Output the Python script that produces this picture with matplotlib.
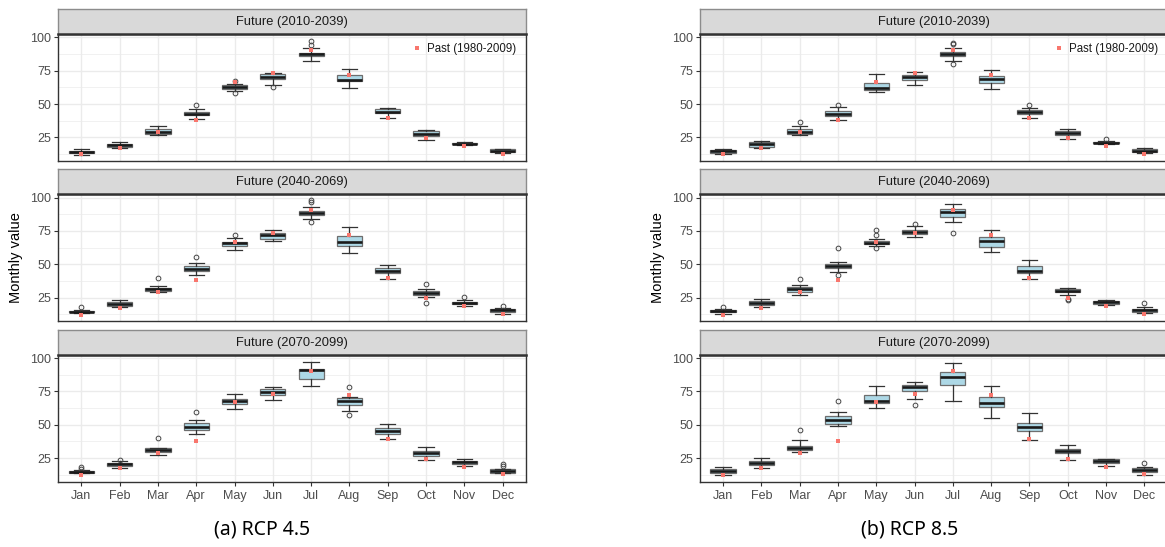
import matplotlib
matplotlib.use("Agg")
import matplotlib.pyplot as plt

months = ["Jan", "Feb", "Mar", "Apr", "May", "Jun", "Jul", "Aug", "Sep", "Oct", "Nov", "Dec"]
past = [12.3, 17.3, 29.0, 38.2, 66.8, 73.4, 90.4, 72.0, 39.6, 24.5, 18.4, 12.8]
periods = ["Future (2010-2039)", "Future (2040-2069)", "Future (2070-2099)"]
captions = ["(a) RCP 4.5", "(b) RCP 8.5"]
yticks = [25, 50, 75, 100]

# ---- RCP 4.5 ----
r45_p1_low = [12.0, 16.9, 26.5, 39.0, 59.7, 64.3, 82.3, 61.9, 39.8, 23.0, 19.0, 13.0]
r45_p1_q1 = [13.0, 18.1, 27.7, 41.5, 61.6, 68.8, 85.7, 67.3, 43.0, 25.7, 19.8, 13.9]
r45_p1_med = [13.8, 19.1, 29.2, 42.7, 62.6, 70.2, 87.2, 67.8, 44.2, 27.5, 20.3, 14.9]
r45_p1_q3 = [15.0, 20.3, 31.2, 43.9, 63.9, 72.2, 88.4, 72.0, 46.2, 29.7, 21.1, 15.9]
r45_p1_high = [15.9, 21.6, 33.6, 46.6, 65.1, 73.4, 92.1, 76.6, 47.1, 30.7, 21.8, 16.6]
r45_p1_out = [[], [], [], [49.6], [58.2, 67.5], [63.1], [93.9, 97.3], [], [], [], [], []]

r45_p2_low = [13.2, 18.1, 28.9, 42.2, 60.9, 67.8, 84.3, 58.4, 38.8, 25.3, 18.9, 12.7]
r45_p2_q1 = [13.9, 19.1, 29.9, 44.7, 63.6, 69.0, 86.7, 63.6, 43.7, 27.0, 20.1, 14.4]
r45_p2_med = [14.4, 20.6, 31.2, 46.4, 65.8, 71.7, 88.2, 66.8, 45.2, 28.7, 21.1, 15.4]
r45_p2_q3 = [15.2, 22.1, 32.6, 48.6, 67.0, 73.7, 90.2, 71.2, 47.1, 29.9, 22.1, 16.4]
r45_p2_high = [15.7, 23.0, 33.4, 51.3, 70.0, 75.7, 93.1, 77.9, 49.3, 31.4, 23.0, 17.6]
r45_p2_out = [[17.9], [], [39.8], [55.7], [72.0], [], [81.6, 96.6, 98.3], [], [], [20.8, 35.1], [25.3], [18.9]]

r45_p3_low = [13.7, 17.9, 27.7, 43.4, 62.1, 68.8, 78.9, 60.4, 39.0, 23.8, 19.3, 13.7]
r45_p3_q1 = [14.2, 19.3, 29.9, 46.4, 65.3, 72.2, 84.0, 64.8, 43.4, 26.5, 20.6, 14.2]
r45_p3_med = [14.7, 20.3, 31.2, 48.4, 67.5, 74.4, 91.1, 68.0, 45.7, 28.9, 22.1, 15.2]
r45_p3_q3 = [15.4, 21.6, 32.4, 51.6, 69.5, 77.1, 91.9, 70.2, 47.9, 30.7, 23.1, 16.6]
r45_p3_high = [16.2, 22.8, 32.9, 53.3, 73.2, 78.6, 96.8, 71.2, 50.6, 33.1, 24.3, 17.1]
r45_p3_out = [[16.9, 18.1], [23.8], [39.8], [59.4], [], [], [], [57.2, 78.6], [], [], [], [19.1, 20.6]]

# ---- RCP 8.5 ----
r85_p1_low = [12.3, 16.8, 26.7, 38.2, 58.7, 63.9, 82.5, 61.5, 39.4, 24.0, 19.7, 13.2]
r85_p1_q1 = [13.2, 18.0, 27.6, 41.1, 60.8, 67.8, 86.1, 65.6, 42.3, 26.4, 20.4, 14.2]
r85_p1_med = [14.4, 19.7, 29.3, 42.8, 62.0, 70.2, 87.3, 68.5, 43.8, 28.4, 21.0, 15.1]
r85_p1_q3 = [15.6, 21.2, 31.0, 44.5, 66.1, 72.1, 88.9, 70.7, 45.7, 29.8, 21.6, 16.1]
r85_p1_high = [16.3, 22.4, 33.7, 47.6, 72.6, 74.0, 92.1, 75.2, 47.1, 31.5, 22.4, 16.8]
r85_p1_out = [[], [], [36.5], [49.5], [], [], [80.3, 94.7, 95.7], [], [49.0], [], [24.0], []]

r85_p2_low = [13.0, 18.3, 26.9, 44.2, 63.7, 70.4, 82.0, 58.9, 38.9, 27.2, 19.2, 13.2]
r85_p2_q1 = [14.4, 19.7, 29.6, 46.9, 65.1, 72.8, 85.3, 63.2, 43.3, 29.2, 20.4, 14.4]
r85_p2_med = [15.1, 21.2, 31.3, 48.6, 66.1, 74.5, 89.2, 67.1, 45.2, 30.3, 21.4, 15.6]
r85_p2_q3 = [16.1, 22.6, 33.2, 50.0, 67.3, 76.0, 91.1, 70.4, 48.8, 31.5, 22.6, 16.6]
r85_p2_high = [16.8, 24.3, 34.4, 51.4, 69.0, 78.4, 95.0, 76.0, 53.1, 32.2, 23.6, 17.8]
r85_p2_out = [[18.0], [], [39.2], [42.3, 62.5], [62.0, 71.6, 76.0], [80.0], [73.8], [], [], [23.5, 24.3], [], [20.7]]

r85_p3_low = [12.4, 17.7, 29.6, 48.9, 62.7, 69.5, 67.6, 54.8, 38.3, 23.5, 19.4, 12.4]
r85_p3_q1 = [13.9, 19.9, 30.8, 50.9, 66.1, 75.3, 79.7, 63.7, 45.3, 28.6, 21.6, 14.8]
r85_p3_med = [15.3, 21.4, 32.5, 53.8, 68.1, 78.2, 85.5, 66.6, 48.7, 30.3, 22.8, 16.0]
r85_p3_q3 = [16.5, 23.1, 33.9, 56.4, 72.7, 80.2, 89.8, 70.5, 51.6, 32.1, 24.0, 17.3]
r85_p3_high = [18.7, 25.0, 38.3, 59.4, 79.4, 81.9, 96.4, 79.2, 58.6, 34.7, 24.7, 18.2]
r85_p3_out = [[], [], [46.0], [68.1], [], [65.2], [], [], [], [], [], [21.4]]

panels = [
    [(r45_p1_low, r45_p1_q1, r45_p1_med, r45_p1_q3, r45_p1_high, r45_p1_out),
     (r45_p2_low, r45_p2_q1, r45_p2_med, r45_p2_q3, r45_p2_high, r45_p2_out),
     (r45_p3_low, r45_p3_q1, r45_p3_med, r45_p3_q3, r45_p3_high, r45_p3_out)],
    [(r85_p1_low, r85_p1_q1, r85_p1_med, r85_p1_q3, r85_p1_high, r85_p1_out),
     (r85_p2_low, r85_p2_q1, r85_p2_med, r85_p2_q3, r85_p2_high, r85_p2_out),
     (r85_p3_low, r85_p3_q1, r85_p3_med, r85_p3_q3, r85_p3_high, r85_p3_out)],
]

W, H = 1165, 547
fig = plt.figure(figsize=(W / 100, H / 100), dpi=100)
fig.patch.set_facecolor("white")

FONT = ["Liberation Sans", "DejaVu Sans"]
TICKC = "#4D4D4D"
GRID = "#EBEBEB"
BORDER = "#333333"

x_lefts = [58.3, 700.0]
ax_w = 467.4
ax_tops = [33.7, 194.0, 354.5]
ax_h = 127.0
strip_h = 24.7
positions = list(range(1, 13))


def px(x0, y_top, w, h):
    return [x0 / W, 1 - (y_top + h) / H, w / W, h / H]


for side in range(2):
    x0 = x_lefts[side]
    for row in range(3):
        low, q1, med, q3, high, out = panels[side][row]
        ax = fig.add_axes(px(x0, ax_tops[row], ax_w, ax_h))
        ax.set_facecolor("white")
        stats = []
        for i in range(12):
            stats.append(dict(med=med[i], q1=q1[i], q3=q3[i], whislo=low[i],
                              whishi=high[i], fliers=out[i]))
        ax.bxp(stats, positions=positions, widths=0.66, capwidths=0.4,
               patch_artist=True, showcaps=True,
               boxprops=dict(facecolor="#ADD8E6", edgecolor="#6E6E6E", linewidth=0.9),
               medianprops=dict(color="#1A1A1A", linewidth=1.9),
               whiskerprops=dict(color="#333333", linewidth=0.9),
               capprops=dict(color="#333333", linewidth=0.9),
               flierprops=dict(marker="o", markersize=3.4, markerfacecolor="none",
                               markeredgecolor="#444444", markeredgewidth=0.7))
        ax.plot(positions, past, linestyle="none", marker="s", markersize=3.3,
                color="#F8766D", markeredgewidth=0, zorder=6,
                label="Past (1980-2009)")
        ax.set_xlim(0.4, 12.6)
        ax.set_ylim(7.5, 102.7)
        ax.set_yticks(yticks)
        ax.set_yticks([12.5, 37.5, 62.5, 87.5], minor=True)
        ax.set_xticks(positions)
        ax.grid(True, which="major", color=GRID, linewidth=1.0, zorder=0)
        ax.grid(True, which="minor", axis="y", color=GRID, linewidth=0.5, zorder=0)
        ax.set_axisbelow(True)
        ax.tick_params(axis="y", which="major", length=3, width=0.8, color=BORDER,
                       labelsize=9.0, labelcolor=TICKC, pad=2)
        ax.tick_params(axis="y", which="minor", length=0)
        for lab in ax.get_yticklabels():
            lab.set_family(FONT)
        if row == 2:
            ax.set_xticklabels(months)
            ax.tick_params(axis="x", length=3, width=0.8, color=BORDER,
                           labelsize=9.0, labelcolor=TICKC, pad=3)
            for lab in ax.get_xticklabels():
                lab.set_family(FONT)
        else:
            ax.set_xticklabels([])
            ax.tick_params(axis="x", length=0)
        for sp in ax.spines.values():
            sp.set_color(BORDER)
            sp.set_linewidth(1.0)
        if row == 1:
            ax.set_ylabel("Monthly value", fontsize=10.5, family=FONT, color="black",
                          labelpad=5)
        if row == 0:
            ax.legend(loc="center right",
                      bbox_to_anchor=(1 - 9.7 / ax_w, 1 - 15.3 / ax_h),
                      frameon=False, handlelength=1.0, handletextpad=0.37,
                      borderpad=0, borderaxespad=0,
                      prop=dict(family=FONT, size=8.3), labelcolor="#1A1A1A")

        # strip
        sax = fig.add_axes(px(x0, ax_tops[row] - strip_h, ax_w, strip_h))
        sax.set_facecolor("#D9D9D9")
        sax.set_xticks([])
        sax.set_yticks([])
        for name, sp in sax.spines.items():
            sp.set_color("#8C8C8C")
            sp.set_linewidth(1.0)
        sax.spines["bottom"].set_color("#333333")
        sax.spines["bottom"].set_linewidth(1.8)
        sax.text(0.5, 0.48, periods[row], transform=sax.transAxes, ha="center",
                 va="center", fontsize=9.3, family=FONT, color="#1A1A1A")

    cx = [262, 910][side]
    fig.text(cx / W, 1 - 530 / H, captions[side], ha="center", va="center",
             fontsize=14, family=["Noto Sans", "DejaVu Sans"], color="black")

fig.savefig("out.png", dpi=100, facecolor="white")
